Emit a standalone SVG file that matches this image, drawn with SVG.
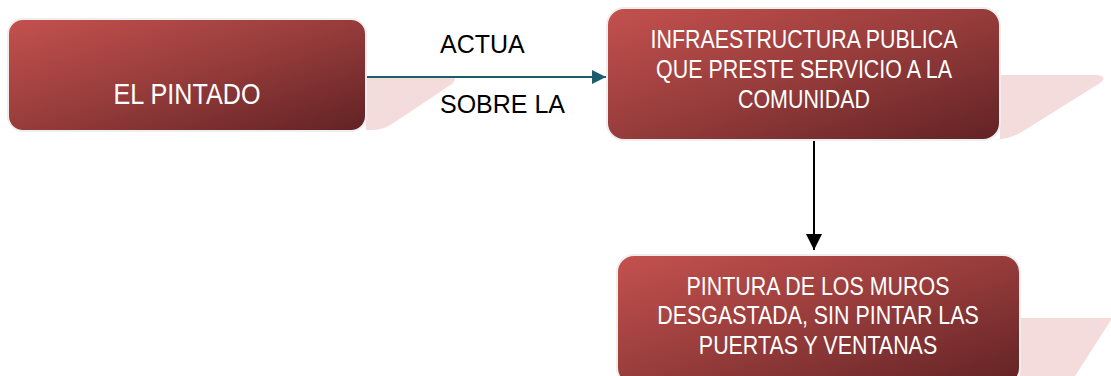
<svg xmlns="http://www.w3.org/2000/svg" width="1111" height="376" viewBox="0 0 1111 376">
<defs>
<linearGradient id="g" x1="0" y1="0" x2="1" y2="1">
<stop offset="0" stop-color="#c4514e"/>
<stop offset="0.5" stop-color="#963c3b"/>
<stop offset="1" stop-color="#622224"/>
</linearGradient>
<marker id="ahT" viewBox="0 0 10 10" refX="10" refY="5" markerWidth="14" markerHeight="14" markerUnits="userSpaceOnUse" orient="auto">
<path d="M0,0 L10,5 L0,10 z" fill="#1f5c6b"/>
</marker>
<marker id="ahB" viewBox="0 0 10 10" refX="10" refY="5" markerWidth="16" markerHeight="16" markerUnits="userSpaceOnUse" orient="auto">
<path d="M0,0 L10,5 L0,10 z" fill="#000"/>
</marker>
</defs>
<style>
.box{fill:url(#g);stroke:#eeeeee;stroke-width:2}
.sh{fill:#f2d6d6;opacity:0.85}
.bt{font-family:"Liberation Sans",Arial,sans-serif;fill:#ffffff;text-anchor:middle}
.lb{font-family:"Liberation Sans",Arial,sans-serif;font-size:25px;fill:#000}
</style>
<g id="n1">
<path class="sh" d="M366,77 L452,77 Q458,78 452,84 L392,124 Q383,130 370,130 L366,130 z"/>
<rect class="box" x="8" y="19" width="358" height="112" rx="15"/>
<text class="bt" transform="translate(187,0) scale(0.84,1)" x="0" y="104" font-size="30">EL PINTADO</text>
</g>
<g id="n2">
<path class="sh" d="M1000,75 L1098,75 Q1108,77 1100,83 L1025,130 Q1010,140 990,140 L1000,140 z"/>
<rect class="box" x="607" y="8" width="393" height="132" rx="17"/>
<text class="bt" transform="translate(804,0) scale(0.84,1)" font-size="25.5"><tspan x="0" y="48">INFRAESTRUCTURA PUBLICA</tspan><tspan x="0" y="78">QUE PRESTE SERVICIO A LA</tspan><tspan x="0" y="108">COMUNIDAD</tspan></text>
</g>
<g id="n3">
<path class="sh" d="M1020,318 L1111,318 L1111,320 L1075,376 L1020,376 z"/>
<rect class="box" x="617" y="255" width="403" height="130" rx="17"/>
<text class="bt" transform="translate(818,0) scale(0.84,1)" font-size="25.5"><tspan x="0" y="295">PINTURA DE LOS MUROS</tspan><tspan x="0" y="324">DESGASTADA, SIN PINTAR LAS</tspan><tspan x="0" y="354">PUERTAS Y VENTANAS</tspan></text>
</g>
<g id="connectors">
<line x1="367" y1="77" x2="606" y2="77" stroke="#1f5c6b" stroke-width="2" marker-end="url(#ahT)"/>
<line x1="814" y1="141" x2="814" y2="250" stroke="#000" stroke-width="2" marker-end="url(#ahB)"/>
<text class="lb" x="440" y="53">ACTUA</text>
<text class="lb" x="440" y="113">SOBRE LA</text>
</g>
</svg>
